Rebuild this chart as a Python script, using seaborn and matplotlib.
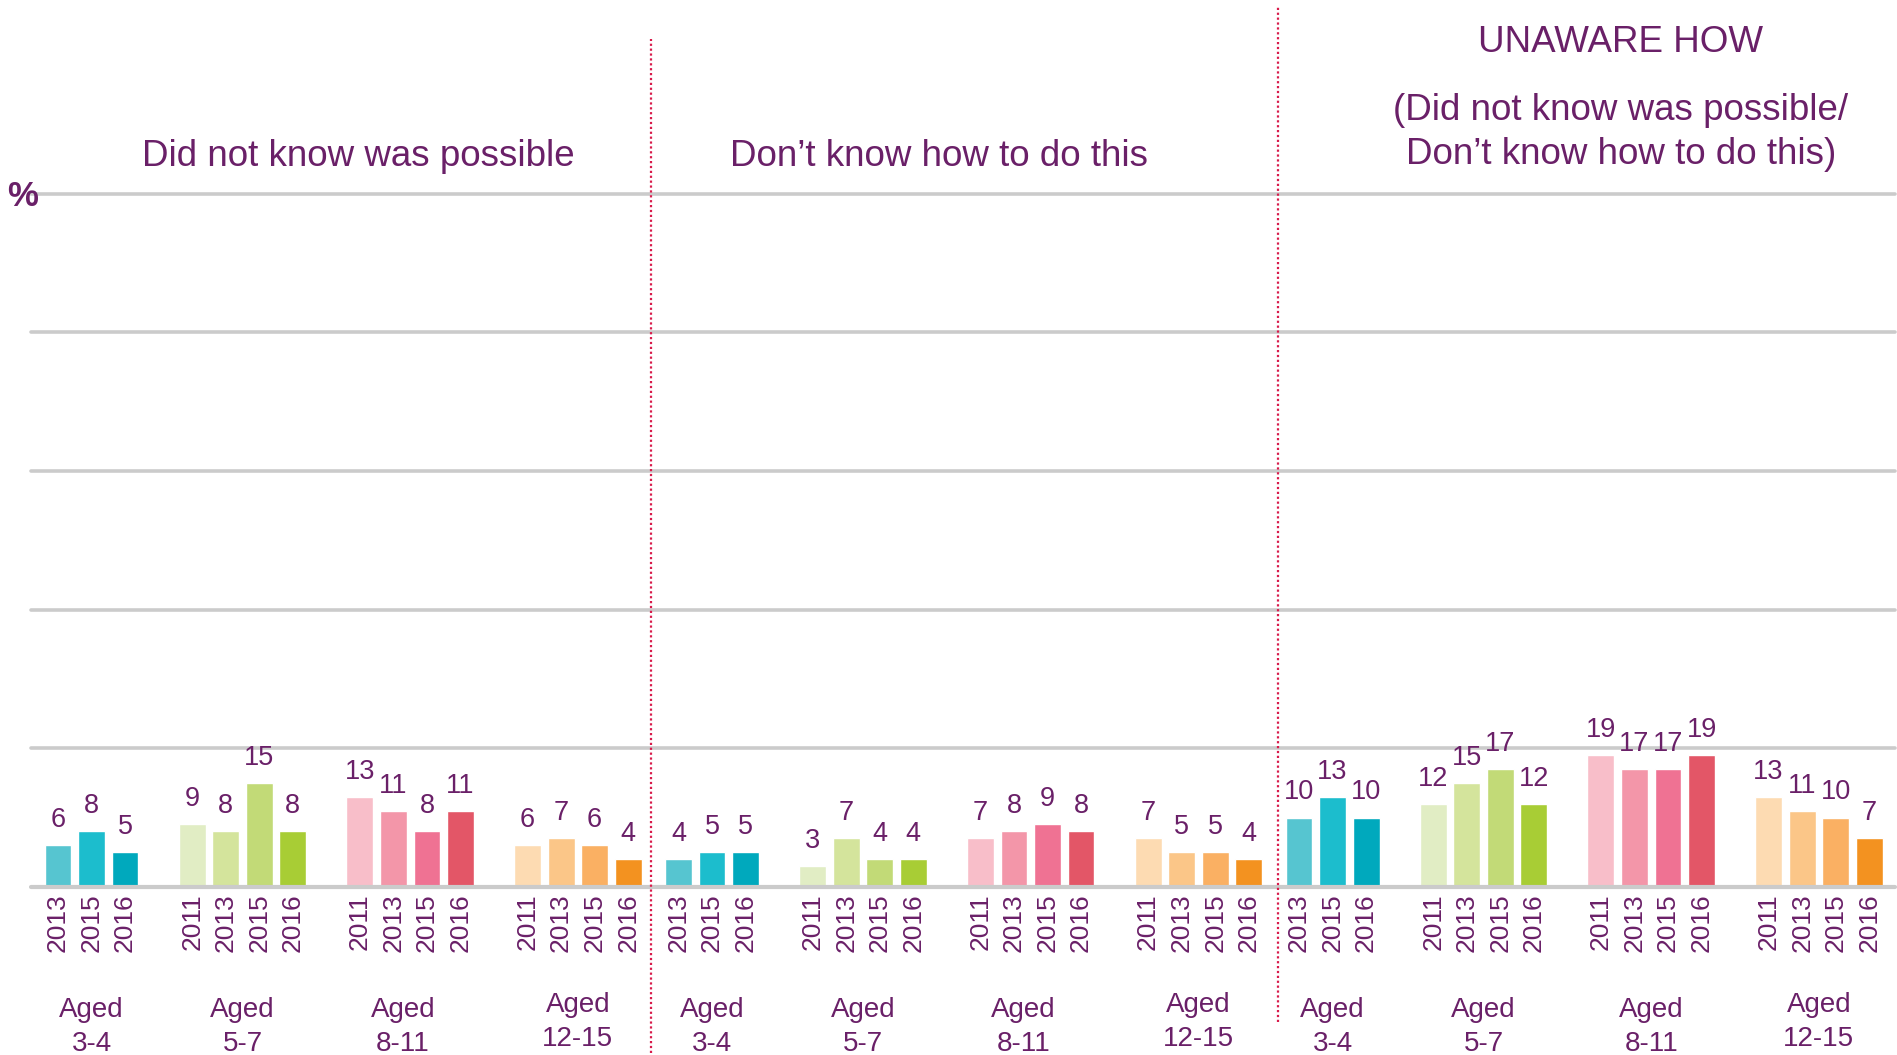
import pandas as pd
import matplotlib.pyplot as plt
import seaborn as sns

# ==========================================
# DATA
# ==========================================
AGES = ['3-4', '5-7', '8-11', '12-15']
YEARS_34 = ['2013', '2015', '2016']
YEARS_OTHER = ['2011', '2013', '2015', '2016']

SECTIONS = ['Did not know was possible', 'Don\u2019t know how to do this', 'Unaware how']

# values per section, per age group (years in order above)
did_not_know = [[6, 8, 5], [9, 8, 15, 8], [13, 11, 8, 11], [6, 7, 6, 4]]
dont_know_how = [[4, 5, 5], [3, 7, 4, 4], [7, 8, 9, 8], [7, 5, 5, 4]]
unaware_how = [[10, 13, 10], [12, 15, 17, 12], [19, 17, 17, 19], [13, 11, 10, 7]]

COLOURS = {
    '3-4': ['#56C5D0', '#1CBDCD', '#00A9BD'],
    '5-7': ['#E1EDC4', '#D4E49C', '#C2DA77', '#A8CD35'],
    '8-11': ['#F8BEC9', '#F396A9', '#EF7293', '#E35667'],
    '12-15': ['#FDDBB2', '#FBC688', '#FAB063', '#F39220'],
}

TEXT = '#6A2068'
GRID = '#CBCBCB'
SEP = '#D81B4B'

# layout (slot units)
SECTION_START = [0, 18.5, 37]
GROUP_START = [0, 4, 9, 14]

# ==========================================
# BUILD TABLE
# ==========================================
rows = []
for s, vals in enumerate([did_not_know, dont_know_how, unaware_how]):
    for g, age in enumerate(AGES):
        years = YEARS_34 if age == '3-4' else YEARS_OTHER
        for i, yr in enumerate(years):
            rows.append({
                'section': s,
                'pos': SECTION_START[s] + GROUP_START[g] + i,
                'value': vals[g][i],
                'year': yr,
                'age': age,
                'key': f'{s}-{age}-{yr}',
                'colour': COLOURS[age][i],
            })
df = pd.DataFrame(rows)
palette = dict(zip(df['key'], df['colour']))

# ==========================================
# PLOT
# ==========================================
sns.set_style('white')
plt.rcParams['font.family'] = ['Liberation Sans', 'DejaVu Sans']

W, H = 1897, 1055
fig = plt.figure(figsize=(W / 100, H / 100), dpi=100)
ax = fig.add_axes([0.0166, 0.1594, 0.9822, 0.6571])

for y in [20, 40, 60, 80, 100]:
    ax.axhline(y, color=GRID, lw=2.6, zorder=0, clip_on=False)
ax.axhline(0, color=GRID, lw=3.0, zorder=3, clip_on=False)

sns.barplot(data=df, x='pos', y='value', hue='key', palette=palette,
            native_scale=True, width=0.8, legend=False, ax=ax,
            saturation=1, zorder=2)

ax.set_xlim(-0.79, 54.76)
ax.set_ylim(0, 100)
for sp in ax.spines.values():
    sp.set_visible(False)
ax.set_yticks([])
ax.set_xlabel('')
ax.set_ylabel('')

ax.set_xticks(df['pos'])
ax.set_xticklabels(df['year'], rotation=90, fontsize=19, color=TEXT)
ax.tick_params(axis='x', length=0, pad=5)

# value labels
for _, r in df.iterrows():
    ax.annotate(str(r['value']), (r['pos'], r['value']), xytext=(0, 13),
                textcoords='offset points', ha='center', va='baseline',
                fontsize=19.5, color=TEXT)

# age group labels
trans = ax.get_xaxis_transform()
for (s, age), sub in df.groupby(['section', 'age'], sort=False):
    xc = (sub['pos'].min() + sub['pos'].max()) / 2
    if age == '8-11' and s < 2:
        xc -= 0.22
    yc = -0.2015 + (0.006 if age == '12-15' else 0)
    ax.text(xc, yc, f'Aged\n{age}', transform=trans,
            ha='center', va='center', fontsize=20, color=TEXT,
            linespacing=1.4, clip_on=False)

# section separators
for x, y0, y1 in [(17.67, -0.239, 1.223), (36.36, -0.195, 1.27)]:
    ax.axvline(x, ymin=y0, ymax=y1, color=SEP, lw=1.6,
               linestyle=(0, (1, 1.2)), clip_on=False, zorder=4)

# titles
def ft(x, y, s, **kw):
    fig.text(x / W, 1 - y / H, s, ha='center', va='center', color=TEXT, **kw)

ft(358, 157, SECTIONS[0], fontsize=26.5)
ft(939, 157, SECTIONS[1], fontsize=26.5)
ft(1621, 43, 'UNAWARE HOW', fontsize=26.5)
ft(1621, 110, '(Did not know was possible/', fontsize=26.5)
ft(1621, 155, 'Don\u2019t know how to do this)', fontsize=26.5)
ft(23, 196, '%', fontsize=25, fontweight='bold')

fig.savefig('out.png', dpi=100)
